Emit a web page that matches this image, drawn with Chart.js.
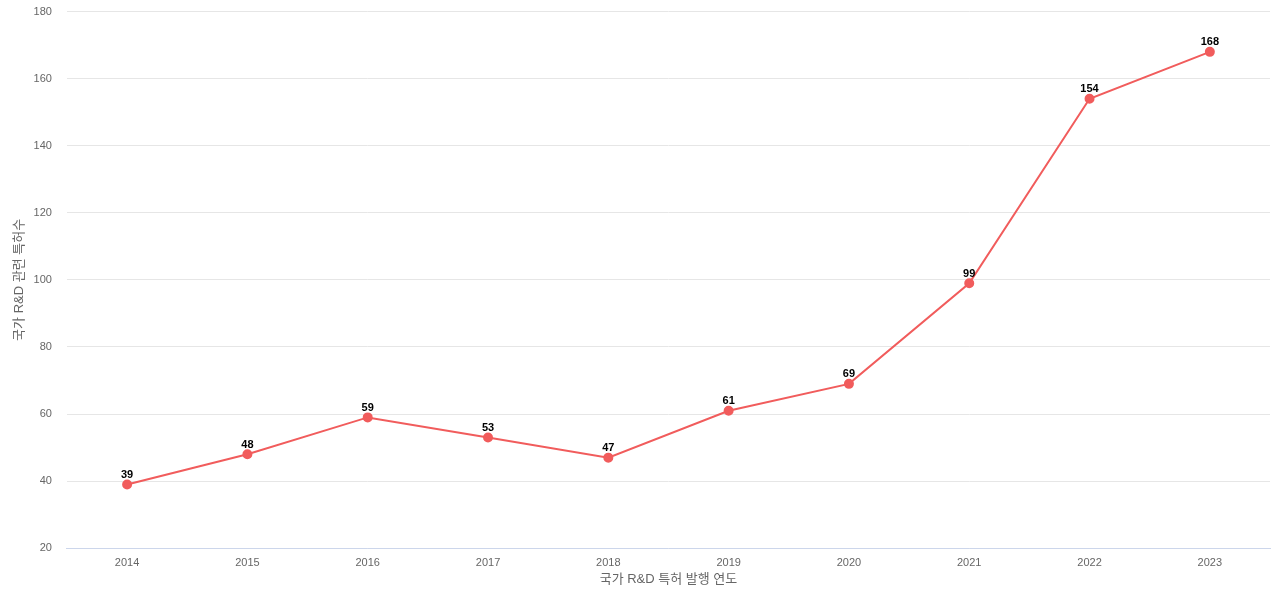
<!DOCTYPE html>
<html>
<head>
<meta charset="utf-8">
<script src="https://cdn.jsdelivr.net/npm/chart.js@4"></script>
<style>
  html, body { margin: 0; background: #fff; overflow: hidden; }
  #wrap { width: 1280px; height: 610px; margin-top: -10px; position: relative; }
</style>
</head>
<body>
<div id="wrap"><canvas id="chart"></canvas></div>
<script>
// 연도별 국가 R&D 관련 특허 수
const years = ["2014", "2015", "2016", "2017", "2018", "2019", "2020", "2021", "2022", "2023"];
const patents = [39, 48, 59, 53, 47, 61, 69, 99, 154, 168];
const yTicks = [20, 40, 60, 80, 100, 120, 140, 160, 180];

const lineColor = '#f15c5c';
const fontFamily = '"Liberation Sans", Arial, "Noto Sans CJK KR", sans-serif';

// 점 위에 값 표시
const valueLabels = {
    id: 'valueLabels',
    afterDatasetsDraw(chart) {
        const ctx = chart.ctx;
        const meta = chart.getDatasetMeta(0);
        ctx.save();
        ctx.font = 'bold 11px ' + fontFamily;
        ctx.fillStyle = '#000';
        ctx.textAlign = 'center';
        ctx.textBaseline = 'bottom';
        meta.data.forEach((pt, i) => {
            ctx.fillText(patents[i], pt.x, pt.y - 4);
        });
        ctx.restore();
    }
};

new Chart(document.getElementById('chart'), {
    type: 'line',
    data: {
        labels: years,
        datasets: [{
            label: '국가 R&D 관련 특허수',
            data: patents,
            borderColor: lineColor,
            backgroundColor: lineColor,
            borderWidth: 2,
            pointRadius: 4,
            pointHoverRadius: 4,
            tension: 0
        }]
    },
    options: {
        responsive: true,
        maintainAspectRatio: false,
        animation: false,
        layout: { autoPadding: false, padding: { top: 4, right: 10, bottom: 13, left: 12 } },
        plugins: {
            legend: { display: false },
            tooltip: { enabled: false }
        },
        scales: {
            x: {
                offset: true,
                grid: { display: false, drawTicks: false },
                border: { color: '#ccd6eb', width: 1 },
                ticks: { color: '#666', font: { family: fontFamily, size: 11 }, padding: 8 },
                title: {
                    display: true,
                    text: '국가 R&D 특허 발행 연도',
                    color: '#666',
                    font: { family: fontFamily, size: 13 },
                    padding: { top: -6, bottom: 0 }
                }
            },
            y: {
                min: 20,
                max: 180,
                afterBuildTicks(axis) {
                    axis.ticks = yTicks.map(v => ({ value: v }));
                },
                grid: { color: '#e6e6e6', drawTicks: false },
                border: { display: false },
                ticks: { color: '#666', font: { family: fontFamily, size: 11 }, padding: 15 },
                title: {
                    display: true,
                    text: '국가 R&D 관련 특허수',
                    color: '#666',
                    font: { family: fontFamily, size: 13 },
                    padding: { top: 0, bottom: -9 }
                }
            }
        }
    },
    plugins: [valueLabels]
});
</script>
</body>
</html>
